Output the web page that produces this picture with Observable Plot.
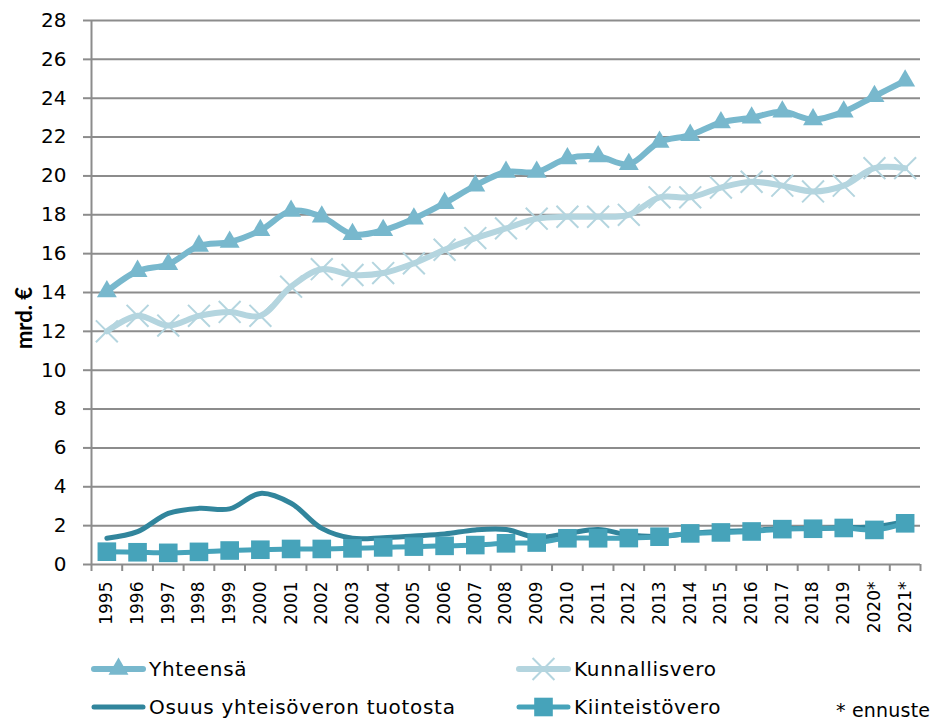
<!DOCTYPE html>
<html>
<head>
<meta charset="utf-8">
<script src="https://cdn.jsdelivr.net/npm/d3@7"></script>
<script src="https://cdn.jsdelivr.net/npm/@observablehq/plot@0.6"></script>
<style>
  html, body { margin: 0; padding: 0; background: #fff; }
  #wrap { width: 933px; font-family: "DejaVu Sans", sans-serif; }
  #legend { position: relative; width: 933px; height: 72px; }
  .item { position: absolute; display: flex; align-items: center; font-size: 20px; letter-spacing: 0.7px; color: #000; height: 30px; white-space: nowrap; }
  .item svg { margin-right: 3px; }
  #note { position: absolute; left: 836px; top: 49px; font-size: 19px; letter-spacing: 0.2px; white-space: nowrap; }
</style>
</head>
<body>
<div id="wrap">
  <div id="chart"></div>
  <div id="legend"></div>
</div>
<script>
const years = ["1995","1996","1997","1998","1999","2000","2001","2002","2003","2004","2005","2006","2007","2008","2009","2010","2011","2012","2013","2014","2015","2016","2017","2018","2019","2020*","2021*"];
const yhteensa = [14.05,15.1,15.45,16.4,16.6,17.2,18.2,17.9,17.0,17.2,17.8,18.6,19.5,20.2,20.2,20.9,21.0,20.6,21.75,22.1,22.75,23.0,23.3,22.9,23.3,24.1,24.9];
const kunnallisvero = [12.0,12.8,12.3,12.8,13.0,12.8,14.3,15.2,14.9,15.0,15.5,16.2,16.8,17.3,17.8,17.9,17.9,18.0,18.9,18.9,19.4,19.7,19.5,19.2,19.5,20.4,20.4];
const osuus = [1.35,1.69,2.63,2.89,2.86,3.66,3.15,1.86,1.35,1.38,1.47,1.57,1.78,1.8,1.4,1.6,1.8,1.52,1.45,1.6,1.7,1.75,1.85,1.85,1.9,1.95,2.2];
const kiinteisto = [0.66,0.63,0.6,0.65,0.72,0.76,0.8,0.8,0.83,0.88,0.92,0.96,1.0,1.09,1.13,1.35,1.35,1.36,1.43,1.6,1.65,1.7,1.82,1.84,1.88,1.78,2.12];
const yTicks = [0,2,4,6,8,10,12,14,16,18,20,22,24,26,28];
const seriesNames = ["Yhteensä","Kunnallisvero","Osuus yhteisöveron tuotosta","Kiinteistövero"];
const colors = ["#78b8cd","#b4d5df","#31859c","#46a3ba"];
const yTitle = "mrd. €";
const note = "* ennuste";

const idx = years.map((_, i) => i);
const mk = (vals) => vals.map((v, i) => ({i, v}));
const dY = mk(yhteensa), dK = mk(kunnallisvero), dO = mk(osuus), dT = mk(kiinteisto);
const boundaries = d3.range(years.length + 1).map(i => i - 0.5);

const chart = Plot.plot({
  width: 933,
  height: 650,
  marginLeft: 91,
  marginRight: 13,
  marginTop: 20,
  marginBottom: 86,
  style: {fontFamily: "'DejaVu Sans', sans-serif", color: "#000", background: "#fff"},
  x: {type: "linear", domain: [-0.5, years.length - 0.5]},
  y: {domain: [0, 28]},
  marks: [
    Plot.gridY(yTicks, {stroke: "#8c8c8c", strokeOpacity: 1, strokeWidth: 2}),
    Plot.ruleX([-0.5], {stroke: "#8c8c8c", strokeWidth: 2}),
    Plot.axisY({ticks: yTicks, tickSize: 8, tickPadding: 17, fontSize: 20, stroke: "#8c8c8c", strokeWidth: 2, label: null, fill: "#000"}),
    Plot.axisX({ticks: boundaries, tickSize: 7, tickFormat: () => "", stroke: "#8c8c8c", strokeWidth: 2, label: null}),
    Plot.axisX({ticks: idx, tickSize: 0, tickPadding: 17, tickRotate: -90, tickFormat: i => years[i], fontSize: 17, label: null}),
    Plot.line(dY, {x: "i", y: "v", stroke: colors[0], strokeWidth: 6, curve: "catmull-rom"}),
    Plot.dot(dY, {x: "i", y: "v", symbol: "triangle", r: 7.4, fill: colors[0], stroke: "none"}),
    Plot.line(dK, {x: "i", y: "v", stroke: colors[1], strokeWidth: 6, curve: "catmull-rom"}),
    Plot.dot(dK, {x: "i", y: "v", symbol: "times", r: 10, stroke: colors[1], strokeWidth: 2, fill: "none"}),
    Plot.line(dO, {x: "i", y: "v", stroke: colors[2], strokeWidth: 5, curve: "catmull-rom"}),
    Plot.line(dT, {x: "i", y: "v", stroke: colors[3], strokeWidth: 5, curve: "catmull-rom"}),
    Plot.dot(dT, {x: "i", y: "v", symbol: "square", r: 10.5, fill: colors[3], stroke: "none"})
  ]
});
d3.select(chart).append("text")
  .attr("transform", "translate(32,318) rotate(-90)")
  .attr("text-anchor", "middle")
  .attr("font-family", "Lato, 'DejaVu Sans', sans-serif")
  .attr("font-weight", "bold")
  .attr("font-size", 22)
  .attr("fill", "#000")
  .text(yTitle);
document.getElementById("chart").appendChild(chart);

// Legend
const symbolsFor = [d3.symbolTriangle, d3.symbolTimes, null, d3.symbolSquare];
const sizes = [Math.PI * 7.4 * 7.4, Math.PI * 10 * 10, 0, Math.PI * 10.5 * 10.5];
const pos = [[91, 4], [516, 4], [91, 42], [516, 42]];
const legend = d3.select("#legend");
seriesNames.forEach((name, k) => {
  const item = legend.append("div").attr("class", "item")
    .style("left", pos[k][0] + "px").style("top", pos[k][1] + "px");
  const svg = item.append("svg").attr("width", 55).attr("height", 30);
  svg.append("line").attr("x1", 3).attr("x2", 52).attr("y1", 15).attr("y2", 15)
    .attr("stroke", colors[k]).attr("stroke-width", k < 2 ? 6 : 5).attr("stroke-linecap", "round");
  if (symbolsFor[k]) {
    const p = d3.symbol(symbolsFor[k], sizes[k])();
    const s = svg.append("path").attr("d", p).attr("transform", "translate(27.5,15)");
    if (k === 1) s.attr("stroke", colors[k]).attr("stroke-width", 2).attr("fill", "none");
    else s.attr("fill", colors[k]);
  }
  item.append("span").text(name);
});
legend.append("div").attr("id", "note").text(note);
</script>
</body>
</html>
